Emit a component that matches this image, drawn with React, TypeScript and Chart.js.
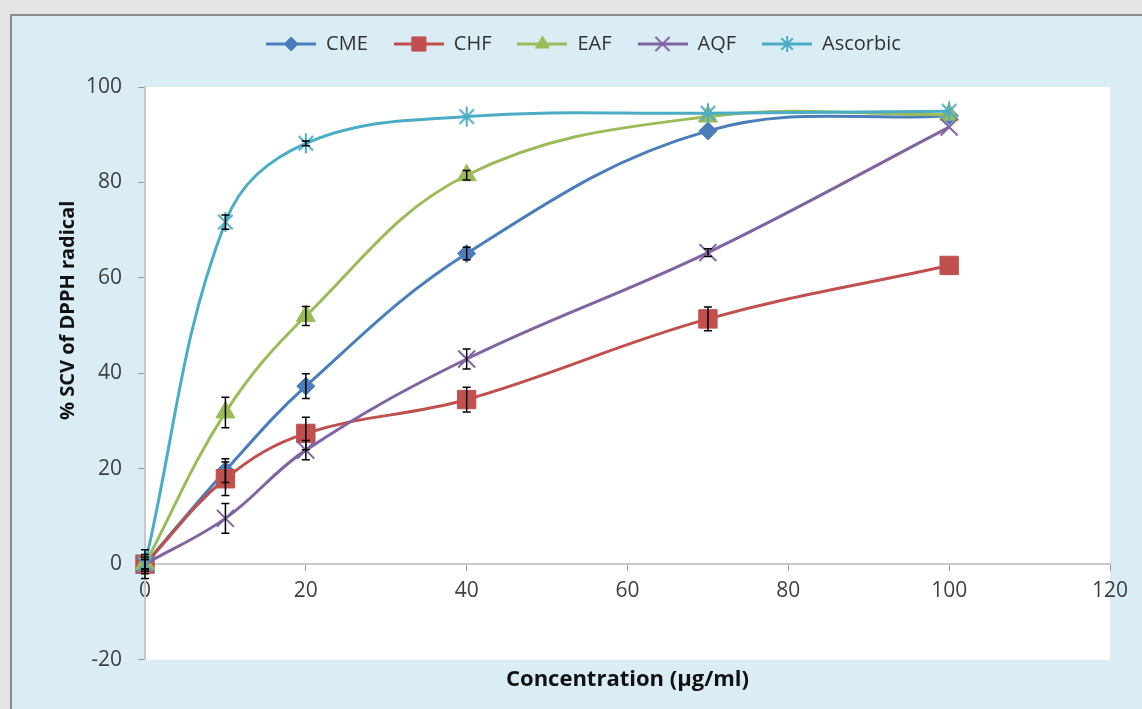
import React, { useEffect, useRef } from "react";
import { Chart, registerables } from "chart.js";
import { drawPoint } from "chart.js/helpers";

Chart.register(...registerables);

// ---------- data ----------
const concentrations = [0, 10, 20, 40, 70, 100];
const seriesLabels = ["CME", "CHF", "EAF", "AQF", "Ascorbic"];

const cmeValues = [0, 19.6, 37.3, 65.1, 90.8, 94.0];
const chfValues = [0, 17.9, 27.4, 34.5, 51.4, 62.6];
const eafValues = [0, 31.8, 52.0, 81.5, 93.8, 94.2];
const aqfValues = [0, 9.6, 23.9, 43.0, 65.3, 91.6];
const ascorbicValues = [0, 71.7, 88.2, 93.8, 94.5, 94.9];

const cmeErrors = [3, 2.5, 2.6, 1.3, 0, 0];
const chfErrors = [2, 3.5, 3.4, 2.6, 2.5, 0];
const eafErrors = [1.5, 3.2, 2, 1, 0, 0];
const aqfErrors = [1, 3.1, 2, 2.1, 0.8, 0];
const ascorbicErrors = [1, 1.5, 0.5, 0, 0, 0];

const xAxisTitle = "Concentration (µg/ml)";
const yAxisTitle = "% SCV of DPPH radical";
const xTickMin = 0;
const xTickMax = 120;
const xTickStep = 20;
const yTickMin = -20;
const yTickMax = 100;
const yTickStep = 20;

const allValues = [cmeValues, chfValues, eafValues, aqfValues, ascorbicValues];
const allErrors = [cmeErrors, chfErrors, eafErrors, aqfErrors, ascorbicErrors];

// ---------- styles ----------
const FONT = "'Open Sans', sans-serif";
const Y_TITLE_X = 68; // canvas x of the rotated y-axis title centre
const Y_TITLE_FRACTION = 0.39; // position of the y title along the plot height (from top)

function drawAsterisk(ctx: CanvasRenderingContext2D, cx: number, cy: number, r: number) {
  const d = r * 0.72;
  ctx.beginPath();
  ctx.moveTo(cx - d, cy - d);
  ctx.lineTo(cx + d, cy + d);
  ctx.moveTo(cx + d, cy - d);
  ctx.lineTo(cx - d, cy + d);
  ctx.moveTo(cx, cy - r);
  ctx.lineTo(cx, cy + r);
  ctx.stroke();
}

function makeAsteriskMarker(color: string, r: number, lw: number) {
  const size = Math.ceil(r * 2 + lw * 2);
  const c = document.createElement("canvas");
  c.width = size;
  c.height = size;
  const ctx = c.getContext("2d") as CanvasRenderingContext2D;
  ctx.strokeStyle = color;
  ctx.lineWidth = lw;
  drawAsterisk(ctx, size / 2, size / 2, r);
  return c;
}

const seriesStyles: any[] = [
  { color: "#4a7ebb", pointStyle: "rectRot", radius: 9, border: 1, legendRadius: 7 },
  { color: "#c0504d", pointStyle: "rect", radius: 13, border: 1, legendRadius: 10 },
  { color: "#9bbb59", pointStyle: "triangle", radius: 11, border: 1, legendRadius: 8 },
  { color: "#8064a2", pointStyle: "crossRot", radius: 12, border: 2, legendRadius: 10 },
  { color: "#4bacc6", pointStyle: "asterisk", radius: 10, border: 2, legendRadius: 8 },
];

function makeLegendIcon(style: any) {
  const c = document.createElement("canvas");
  c.width = 50;
  c.height = 20;
  const ctx = c.getContext("2d") as CanvasRenderingContext2D;
  ctx.strokeStyle = style.color;
  ctx.lineWidth = 3;
  ctx.beginPath();
  ctx.moveTo(0, 10);
  ctx.lineTo(50, 10);
  ctx.stroke();
  ctx.fillStyle = style.color;
  ctx.strokeStyle = style.color;
  ctx.lineWidth = style.border;
  if (style.pointStyle === "asterisk") {
    drawAsterisk(ctx, 25, 10, style.legendRadius);
  } else {
    drawPoint(
      ctx,
      { pointStyle: style.pointStyle, rotation: 0, radius: style.legendRadius, borderWidth: style.border } as any,
      25,
      10
    );
  }
  return c;
}

const plotBackground = {
  id: "plotBackground",
  beforeDraw(chart: any) {
    const { ctx, chartArea } = chart;
    ctx.save();
    ctx.fillStyle = "#ffffff";
    ctx.fillRect(chartArea.left, chartArea.top, chartArea.right - chartArea.left, chartArea.bottom - chartArea.top);
    ctx.restore();
  },
};

const yTitlePlugin = {
  id: "yTitle",
  afterDraw(chart: any) {
    const { ctx, chartArea } = chart;
    const cy = chartArea.top + (chartArea.bottom - chartArea.top) * Y_TITLE_FRACTION;
    ctx.save();
    ctx.translate(Y_TITLE_X, cy);
    ctx.rotate(-Math.PI / 2);
    ctx.fillStyle = "#111111";
    ctx.font = `bold 20px ${FONT}`;
    ctx.textAlign = "center";
    ctx.textBaseline = "middle";
    ctx.fillText(yAxisTitle, 0, 0);
    ctx.restore();
  },
};

const errorBars = {
  id: "errorBars",
  afterDatasetsDraw(chart: any) {
    const { ctx } = chart;
    const xs = chart.scales.x;
    const ys = chart.scales.y;
    ctx.save();
    ctx.strokeStyle = "#000000";
    ctx.lineWidth = 1.5;
    allErrors.forEach((errs, di) => {
      if (!chart.isDatasetVisible(di)) return;
      allValues[di].forEach((v, i) => {
        const e = errs[i];
        if (!e) return;
        const px = xs.getPixelForValue(concentrations[i]);
        const top = ys.getPixelForValue(v + e);
        const bot = ys.getPixelForValue(v - e);
        ctx.beginPath();
        ctx.moveTo(px, top);
        ctx.lineTo(px, bot);
        ctx.moveTo(px - 4, top);
        ctx.lineTo(px + 4, top);
        ctx.moveTo(px - 4, bot);
        ctx.lineTo(px + 4, bot);
        ctx.stroke();
      });
    });
    ctx.restore();
  },
};

export default function App() {
  const canvasRef = useRef<HTMLCanvasElement | null>(null);

  useEffect(() => {
    if (!canvasRef.current) return;
    const icons = seriesStyles.map(makeLegendIcon);
    const datasets = seriesLabels.map((label, i) => {
      const s = seriesStyles[i];
      const ps = s.pointStyle === "asterisk" ? makeAsteriskMarker(s.color, s.radius, s.border) : s.pointStyle;
      return {
        label,
        data: concentrations.map((c, j) => ({ x: c, y: allValues[i][j] })),
        borderColor: s.color,
        backgroundColor: s.color,
        borderWidth: 3,
        pointStyle: ps,
        pointRadius: s.radius,
        pointHoverRadius: s.radius,
        pointBorderWidth: s.border,
        pointBackgroundColor: s.color,
        pointBorderColor: s.color,
        tension: 0.38,
        clip: false,
        order: seriesLabels.length - i,
      };
    });

    const chart = new Chart(canvasRef.current, {
      type: "line",
      data: { datasets: datasets as any },
      plugins: [plotBackground, errorBars, yTitlePlugin],
      options: {
        animation: false,
        responsive: false,
        devicePixelRatio: 1,
        layout: { padding: { left: 57, top: 8, right: 32, bottom: 0 } },
        plugins: {
          tooltip: { enabled: false },
          legend: {
            display: true,
            position: "top",
            labels: {
              usePointStyle: true,
              pointStyleWidth: 50,
              padding: 26,
              color: "#333333",
              font: { family: FONT, size: 20 },
              sort: (a: any, b: any) => a.datasetIndex - b.datasetIndex,
              generateLabels: (ch: any) =>
                Chart.defaults.plugins.legend.labels
                  .generateLabels(ch)
                  .map((item: any) => ({ ...item, pointStyle: icons[item.datasetIndex], rotation: 0 })),
            },
          },
          subtitle: {
            display: true,
            text: "",
            position: "top",
            weight: 500,
            font: { size: 10 },
            padding: { top: 0, bottom: 11 },
          } as any,
          title: {
            display: true,
            text: xAxisTitle,
            position: "bottom",
            fullSize: false,
            color: "#111111",
            font: { family: FONT, size: 22, weight: "bold" },
            padding: { top: 7, bottom: 16 },
          } as any,
        },
        scales: {
          x: {
            type: "linear",
            position: { y: 0 } as any,
            min: xTickMin,
            max: xTickMax,
            ticks: { stepSize: xTickStep, color: "#404040", font: { family: FONT, size: 21 }, padding: 8 },
            grid: { drawOnChartArea: false, drawTicks: true, tickLength: 6, color: "#999999" },
            border: { display: true, color: "#c8c8c8", width: 2 },
          },
          y: {
            type: "linear",
            min: yTickMin,
            max: yTickMax,
            ticks: { stepSize: yTickStep, color: "#404040", font: { family: FONT, size: 21 }, padding: 16 },
            grid: { drawOnChartArea: false, drawTicks: true, tickLength: 7, color: "#999999" },
            border: { display: true, color: "#c8c8c8", width: 2 },
            afterFit: (s: any) => {
              s.width = 88;
            },
          },
        },
      },
    } as any);
    return () => chart.destroy();
  }, []);

  return (
    <div style={{ position: "fixed", inset: 0, background: "#e4e4e4", overflow: "hidden" }}>
      <div
        style={{
          position: "absolute",
          left: 10,
          top: 14,
          right: -20,
          bottom: -20,
          border: "2px solid #8c8c8c",
          background: "#daedf4",
        }}
      />
      <canvas
        ref={canvasRef}
        width={1142}
        height={709}
        style={{ position: "absolute", left: 0, top: 0, width: 1142, height: 709 }}
      />
    </div>
  );
}
